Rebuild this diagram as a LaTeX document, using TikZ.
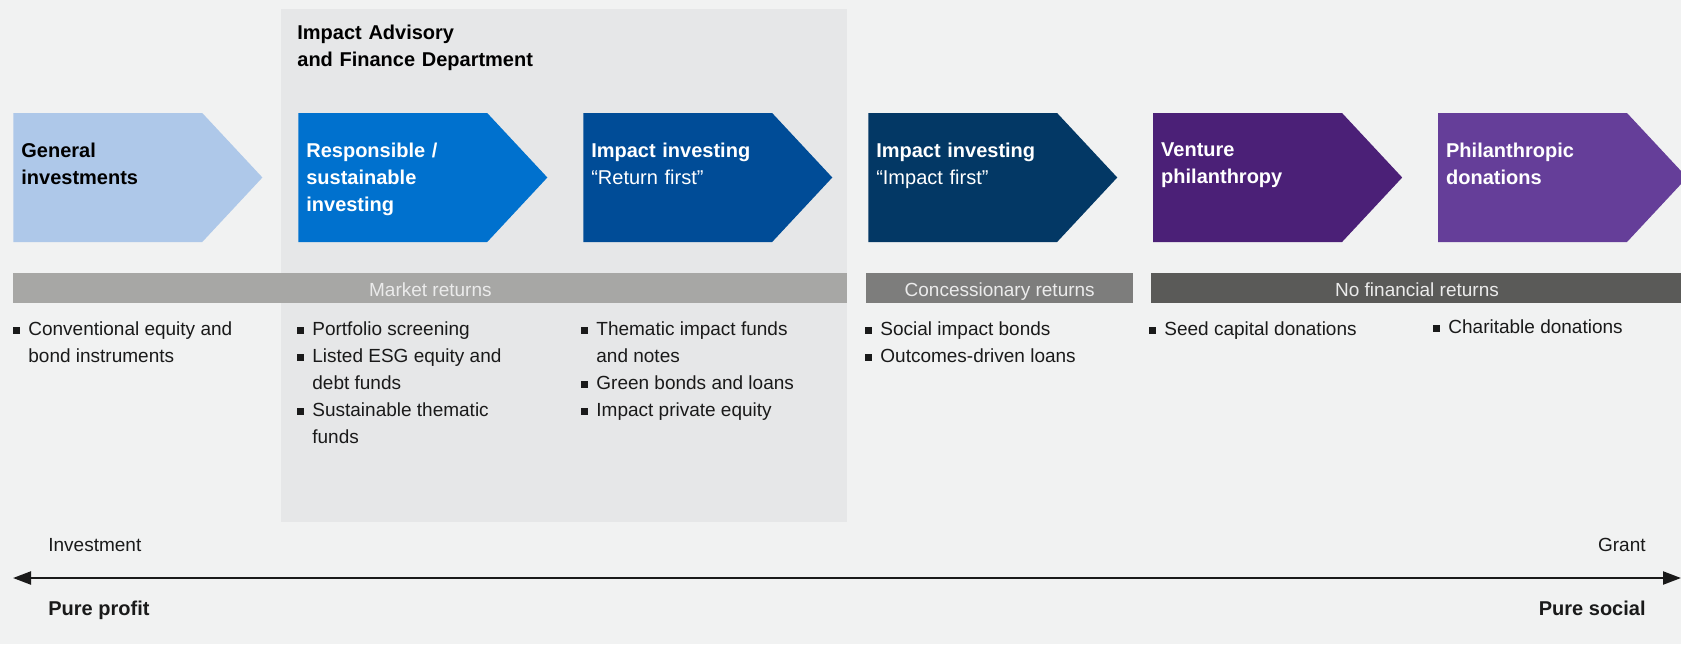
\documentclass[tikz,border=0pt]{standalone}
\usepackage{fontspec}
\setmainfont{Liberation Sans}
\usetikzlibrary{arrows.meta,positioning,shapes.symbols}

\definecolor{bgc}{HTML}{F1F2F2}
\definecolor{panelc}{HTML}{E6E7E8}
\definecolor{gicol}{HTML}{AEC8E9}
\definecolor{rscol}{HTML}{0071CE}
\definecolor{rfcol}{HTML}{004C97}
\definecolor{ifcol}{HTML}{033865}
\definecolor{vpcol}{HTML}{4B2077}
\definecolor{pdcol}{HTML}{653E99}
\definecolor{mktcol}{HTML}{A7A7A5}
\definecolor{conccol}{HTML}{7D7D7C}
\definecolor{nofincol}{HTML}{5A5A58}
\definecolor{txtc}{HTML}{1A1A1A}

% bullet and continuation indent for the lists
\newcommand{\bul}{\strut\makebox[7.5pt][l]{\rule[0.9pt]{3.2pt}{3.2pt}}}
\newcommand{\cnt}{\strut\hspace*{7.5pt}}

\begin{document}
\begin{tikzpicture}[x=0.5pt,y=-0.5pt,node distance=17.5pt,
  stage/.style={signal,signal to=east,signal pointer angle=94,
  minimum width=124.5pt,minimum height=64.5pt,inner sep=0pt,anchor=west},
  head/.style={anchor=north west,inner sep=0pt,text width=115pt,align=left,
  font=\fontsize{10}{13.5}\selectfont\bfseries,text=white},
  bar/.style={anchor=north west,inner sep=0pt,minimum height=15pt,
  text height=8pt,text depth=0pt,
  font=\fontsize{9.5}{13.5}\selectfont,text=white!92!black},
  items/.style={anchor=north west,inner sep=0pt,align=left,
  font=\fontsize{9.5}{13.5}\selectfont,text=txtc},
  axis label/.style={inner sep=0pt,font=\fontsize{9.5}{13.5}\selectfont,
  text=txtc}]

  \fill[bgc] (0,0) rectangle (1681,644);
  \useasboundingbox (0,0) rectangle (1681,644);
  \fill[panelc] (281,9) rectangle (847,522);

  \node[head,text=black,text width=200pt] (dept) at (297,24.5)
    {Impact Advisory\\and Finance Department};

  \node[stage,fill=gicol] (gi) at (13,177.5) {};
  \node[stage,fill=rscol] (rs) [right=of gi] {};
  \node[stage,fill=rfcol] (rf) [right=of rs] {};
  \node[stage,fill=ifcol] (if) [right=of rf] {};
  \node[stage,fill=vpcol] (vp) [right=of if] {};
  \node[stage,fill=pdcol] (pd) [right=of vp] {};

  \node[head,text=black] at ([shift={(8,-35)}]gi.west) {General\\investments};
  \node[head] at ([shift={(8,-35)}]rs.west) {Responsible /\\sustainable\\investing};
  \node[head] at ([shift={(8,-35)}]rf.west) {Impact investing\\\mdseries ``Return first''};
  \node[head] at ([shift={(8,-35)}]if.west) {Impact investing\\\mdseries ``Impact first''};
  \node[head] at ([shift={(8,-35)}]vp.west) {Venture\\philanthropy};
  \node[head] at ([shift={(8,-35)}]pd.west) {Philanthropic\\donations};

  \node[bar,fill=mktcol,minimum width=417pt] (mkt) at (13,273) {Market returns};
  \node[bar,fill=conccol,minimum width=133.5pt] (conc) [right=9pt of mkt]
    {Concessionary returns};
  \node[bar,fill=nofincol,minimum width=266pt] (nofin) [right=8.5pt of conc]
    {No financial returns};

  \node[items] (gil) at (13,316)
    {\bul Conventional equity and\\\cnt bond instruments};
  \node[items] (rsl) at (297,316)
    {\bul Portfolio screening\\\bul Listed ESG equity and\\\cnt debt funds\\
     \bul Sustainable thematic\\\cnt funds};
  \node[items] (rfl) at (581,316)
    {\bul Thematic impact funds\\\cnt and notes\\\bul Green bonds and loans\\
     \bul Impact private equity};
  \node[items] (ifl) at (865,316)
    {\bul Social impact bonds\\\bul Outcomes-driven loans};
  \node[items] (vpl) at (1149,316) {\bul Seed capital donations};
  \node[items] (pdl) at (1433,314) {\bul Charitable donations};

  \node[axis label,anchor=base west] (inv) at (48,551) {Investment};
  \node[axis label,anchor=base east] (grant) at (1646,551) {Grant};
  \node[axis label,anchor=base west,font=\fontsize{10}{13.5}\selectfont\bfseries]
    (pp) at (48,615) {Pure profit};
  \node[axis label,anchor=base east,font=\fontsize{10}{13.5}\selectfont\bfseries]
    (ps) at (1646,615) {Pure social};

  \coordinate (lft) at (13,578);
  \coordinate (rgt) at (1681,578);
  \draw[{Triangle[length=9pt,width=6.5pt]}-{Triangle[length=9pt,width=6.5pt]},
    line width=1.1pt,txtc] (lft) -- (rgt);
\end{tikzpicture}
\end{document}
